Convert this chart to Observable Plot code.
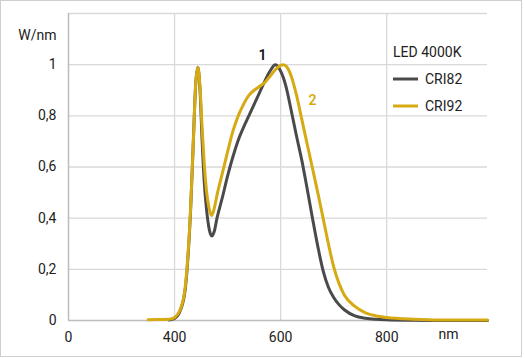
<!DOCTYPE html>
<html>
<head>
<meta charset="utf-8">
<script src="https://cdn.jsdelivr.net/npm/d3@7"></script>
<script src="https://cdn.jsdelivr.net/npm/@observablehq/plot@0.6"></script>
<style>
  html, body { margin: 0; padding: 0; background: #fff; }
  #wrap { position: relative; width: 525px; height: 358px; }
  #border { position: absolute; left: 0; top: 0; width: 520px; height: 355px; border: 1px solid #cfcfcf; pointer-events: none; z-index: 2; }
</style>
</head>
<body>
<div id="wrap"><div id="border"></div></div>
<script>
// Wavelength grid (nm, on the chart's x scale)
const wavelengths = [350,370,390,400,410,420,425,430,435,440,444,448,452,456,460,465,470,475,480,490,500,510,520,530,540,550,560,570,580,590,595,600,605,610,620,630,640,650,660,670,680,690,700,710,720,740,760,780,800,850,900,990];
// Series values (W/nm, normalised)
const cri82 = [null,null,0.002,0.008,0.035,0.12,0.24,0.42,0.68,0.93,0.99,0.9,0.7,0.54,0.44,0.36,0.33,0.35,0.40,0.48,0.565,0.64,0.705,0.755,0.80,0.845,0.89,0.935,0.975,1.0,0.993,0.975,0.95,0.915,0.82,0.72,0.625,0.515,0.40,0.29,0.195,0.13,0.09,0.062,0.042,0.018,0.009,0.005,0.003,0.001,0,0];
const cri92 = [0.003,0.004,0.005,0.012,0.04,0.13,0.25,0.43,0.68,0.93,0.99,0.91,0.75,0.61,0.51,0.44,0.41,0.44,0.49,0.575,0.66,0.74,0.80,0.845,0.88,0.90,0.915,0.93,0.955,0.98,0.99,0.997,1.0,0.995,0.955,0.88,0.785,0.69,0.595,0.50,0.40,0.30,0.21,0.145,0.10,0.055,0.03,0.018,0.012,0.005,0.002,0.002];
// Axis ticks and labels
const xTicks = [200,400,600,800];
const xTickLabels = ["0","400","600","800"];
const yTicks = [0,0.2,0.4,0.6,0.8,1];
const yGrid = [0.2,0.4,0.6,0.8,1,1.2];
const seriesNames = ["CRI82","CRI92"];
const seriesColors = ["#4a4a4a","#d6aa12"];
const legendTitle = "LED 4000K";
const curveLabels = [{x:566, y:1.035, text:"1", color:"#111"}, {x:660, y:0.86, text:"2", color:"#d6aa12"}];

const rows82 = wavelengths.map((w,i)=>({w, v: cri82[i]}));
const rows92 = wavelengths.map((w,i)=>({w, v: cri92[i]}));

const font = "Roboto, 'Noto Sans', sans-serif";

const chart = Plot.plot({
  width: 525, height: 358,
  marginLeft: 68, marginRight: 38, marginTop: 13, marginBottom: 38,
  style: {fontFamily: font, fontSize: "14px", color: "#222", background: "transparent"},
  x: {domain: [200, 990]},
  y: {domain: [0, 1.2]},
  marks: [
    Plot.gridY(yGrid, {stroke: "#d9d9d9", strokeOpacity: 1, strokeWidth: 1.3}),
    Plot.gridX([400,600,800], {stroke: "#d9d9d9", strokeOpacity: 1, strokeWidth: 1.3}),
    Plot.ruleX([200], {stroke: "#bdbdbd", strokeWidth: 1.5}),
    Plot.ruleY([0], {stroke: "#bdbdbd", strokeWidth: 1.5}),
    Plot.axisX(xTicks, {tickSize: 0, tickPadding: 12, tickFormat: d => xTickLabels[xTicks.indexOf(d)], label: null, fontSize: 14}),
    Plot.axisY(yTicks, {tickSize: 0, tickPadding: 12, tickFormat: d => String(d).replace(".", ","), label: null, fontSize: 14}),
    Plot.line(rows82, {x: "w", y: "v", stroke: seriesColors[0], strokeWidth: 3, curve: "monotone-x"}),
    Plot.line(rows92, {x: "w", y: "v", stroke: seriesColors[1], strokeWidth: 3, curve: "monotone-x"}),
    Plot.text(curveLabels, {x: "x", y: "y", text: "text", fill: "color", fontSize: 14, fontWeight: 600}),
    Plot.text(["W/nm"], {frameAnchor: "top-left", dx: -12, dy: 17, textAnchor: "end", fontSize: 14}),
    Plot.text(["nm"], {frameAnchor: "bottom-right", dx: -39, dy: 18, textAnchor: "middle", fontSize: 14})
  ]
});
document.getElementById("wrap").appendChild(chart);
chart.style.position = "absolute"; chart.style.left = "0"; chart.style.top = "0";

// Legend
const svg = d3.select(chart);
const lg = svg.append("g").attr("font-family", font).attr("font-size", 14).attr("fill", "#222").attr("text-anchor", "start");
lg.append("text").attr("x", 393).attr("y", 52).attr("dy", "0.35em").attr("text-anchor", "start").text(legendTitle);
seriesNames.forEach((n, i) => {
  const y = 79 + i * 27;
  lg.append("line").attr("x1", 393).attr("x2", 418).attr("y1", y).attr("y2", y).attr("stroke", seriesColors[i]).attr("stroke-width", 3);
  lg.append("text").attr("x", 425).attr("y", y).attr("dy", "0.35em").attr("text-anchor", "start").text(n);
});
</script>
</body>
</html>
